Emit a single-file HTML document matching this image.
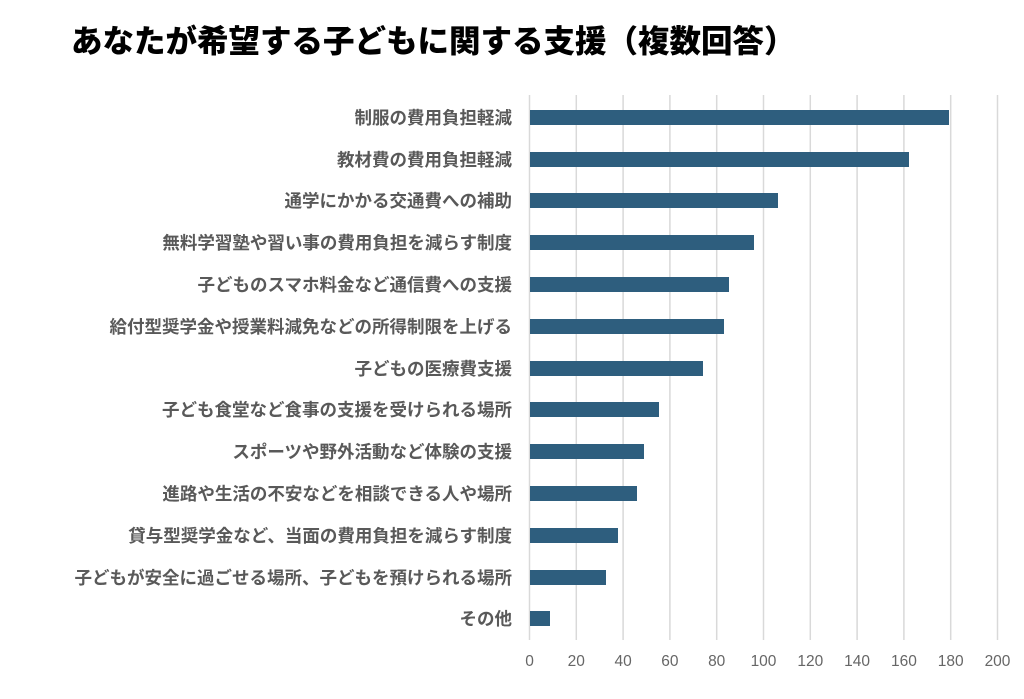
<!DOCTYPE html>
<html><head><meta charset="utf-8"><style>
body{margin:0;background:#fff;}
svg text{font-family:"Liberation Sans","Noto Sans CJK JP",sans-serif;}
</style></head><body>
<svg width="1024" height="694" xmlns="http://www.w3.org/2000/svg">
<rect width="1024" height="694" fill="#fff"/>
<text x="71" y="52" font-size="31.5" font-weight="900" fill="#000">あなたが希望する子どもに関する支援（複数回答）</text>
<g stroke="#d9d9d9" stroke-width="1.5">
<line x1="529.5" y1="95" x2="529.5" y2="640"/>
<line x1="576.3" y1="95" x2="576.3" y2="640"/>
<line x1="623.1" y1="95" x2="623.1" y2="640"/>
<line x1="669.9" y1="95" x2="669.9" y2="640"/>
<line x1="716.7" y1="95" x2="716.7" y2="640"/>
<line x1="763.5" y1="95" x2="763.5" y2="640"/>
<line x1="810.3" y1="95" x2="810.3" y2="640"/>
<line x1="857.1" y1="95" x2="857.1" y2="640"/>
<line x1="903.9" y1="95" x2="903.9" y2="640"/>
<line x1="950.7" y1="95" x2="950.7" y2="640"/>
<line x1="997.5" y1="95" x2="997.5" y2="640"/>
</g>
<g fill="#666" font-size="15.5" text-anchor="middle">
<text x="529.5" y="666">0</text><text x="576.3" y="666">20</text><text x="623.1" y="666">40</text><text x="669.9" y="666">60</text><text x="716.7" y="666">80</text><text x="763.5" y="666">100</text><text x="810.3" y="666">120</text><text x="857.1" y="666">140</text><text x="903.9" y="666">160</text><text x="950.7" y="666">180</text><text x="997.5" y="666">200</text>
</g>
<g fill="#2e5e7e">
<rect x="530" y="110" width="419" height="15"/>
<rect x="530" y="152" width="379" height="15"/>
<rect x="530" y="193" width="248" height="15"/>
<rect x="530" y="235" width="224" height="15"/>
<rect x="530" y="277" width="199" height="15"/>
<rect x="530" y="319" width="194" height="15"/>
<rect x="530" y="361" width="173" height="15"/>
<rect x="530" y="402" width="129" height="15"/>
<rect x="530" y="444" width="114" height="15"/>
<rect x="530" y="486" width="107" height="15"/>
<rect x="530" y="528" width="88" height="15"/>
<rect x="530" y="570" width="76" height="15"/>
<rect x="530" y="611" width="20" height="15"/>
</g>
<g fill="#595959" font-size="17.5" font-weight="bold" text-anchor="end">
<text x="512" y="124">制服の費用負担軽減</text>
<text x="512" y="166">教材費の費用負担軽減</text>
<text x="512" y="207">通学にかかる交通費への補助</text>
<text x="512" y="249">無料学習塾や習い事の費用負担を減らす制度</text>
<text x="512" y="291">子どものスマホ料金など通信費への支援</text>
<text x="512" y="333">給付型奨学金や授業料減免などの所得制限を上げる</text>
<text x="512" y="375">子どもの医療費支援</text>
<text x="512" y="416">子ども食堂など食事の支援を受けられる場所</text>
<text x="512" y="458">スポーツや野外活動など体験の支援</text>
<text x="512" y="500">進路や生活の不安などを相談できる人や場所</text>
<text x="512" y="542">貸与型奨学金など、当面の費用負担を減らす制度</text>
<text x="512" y="584">子どもが安全に過ごせる場所、子どもを預けられる場所</text>
<text x="512" y="625">その他</text>
</g>
</svg>
</body></html>
